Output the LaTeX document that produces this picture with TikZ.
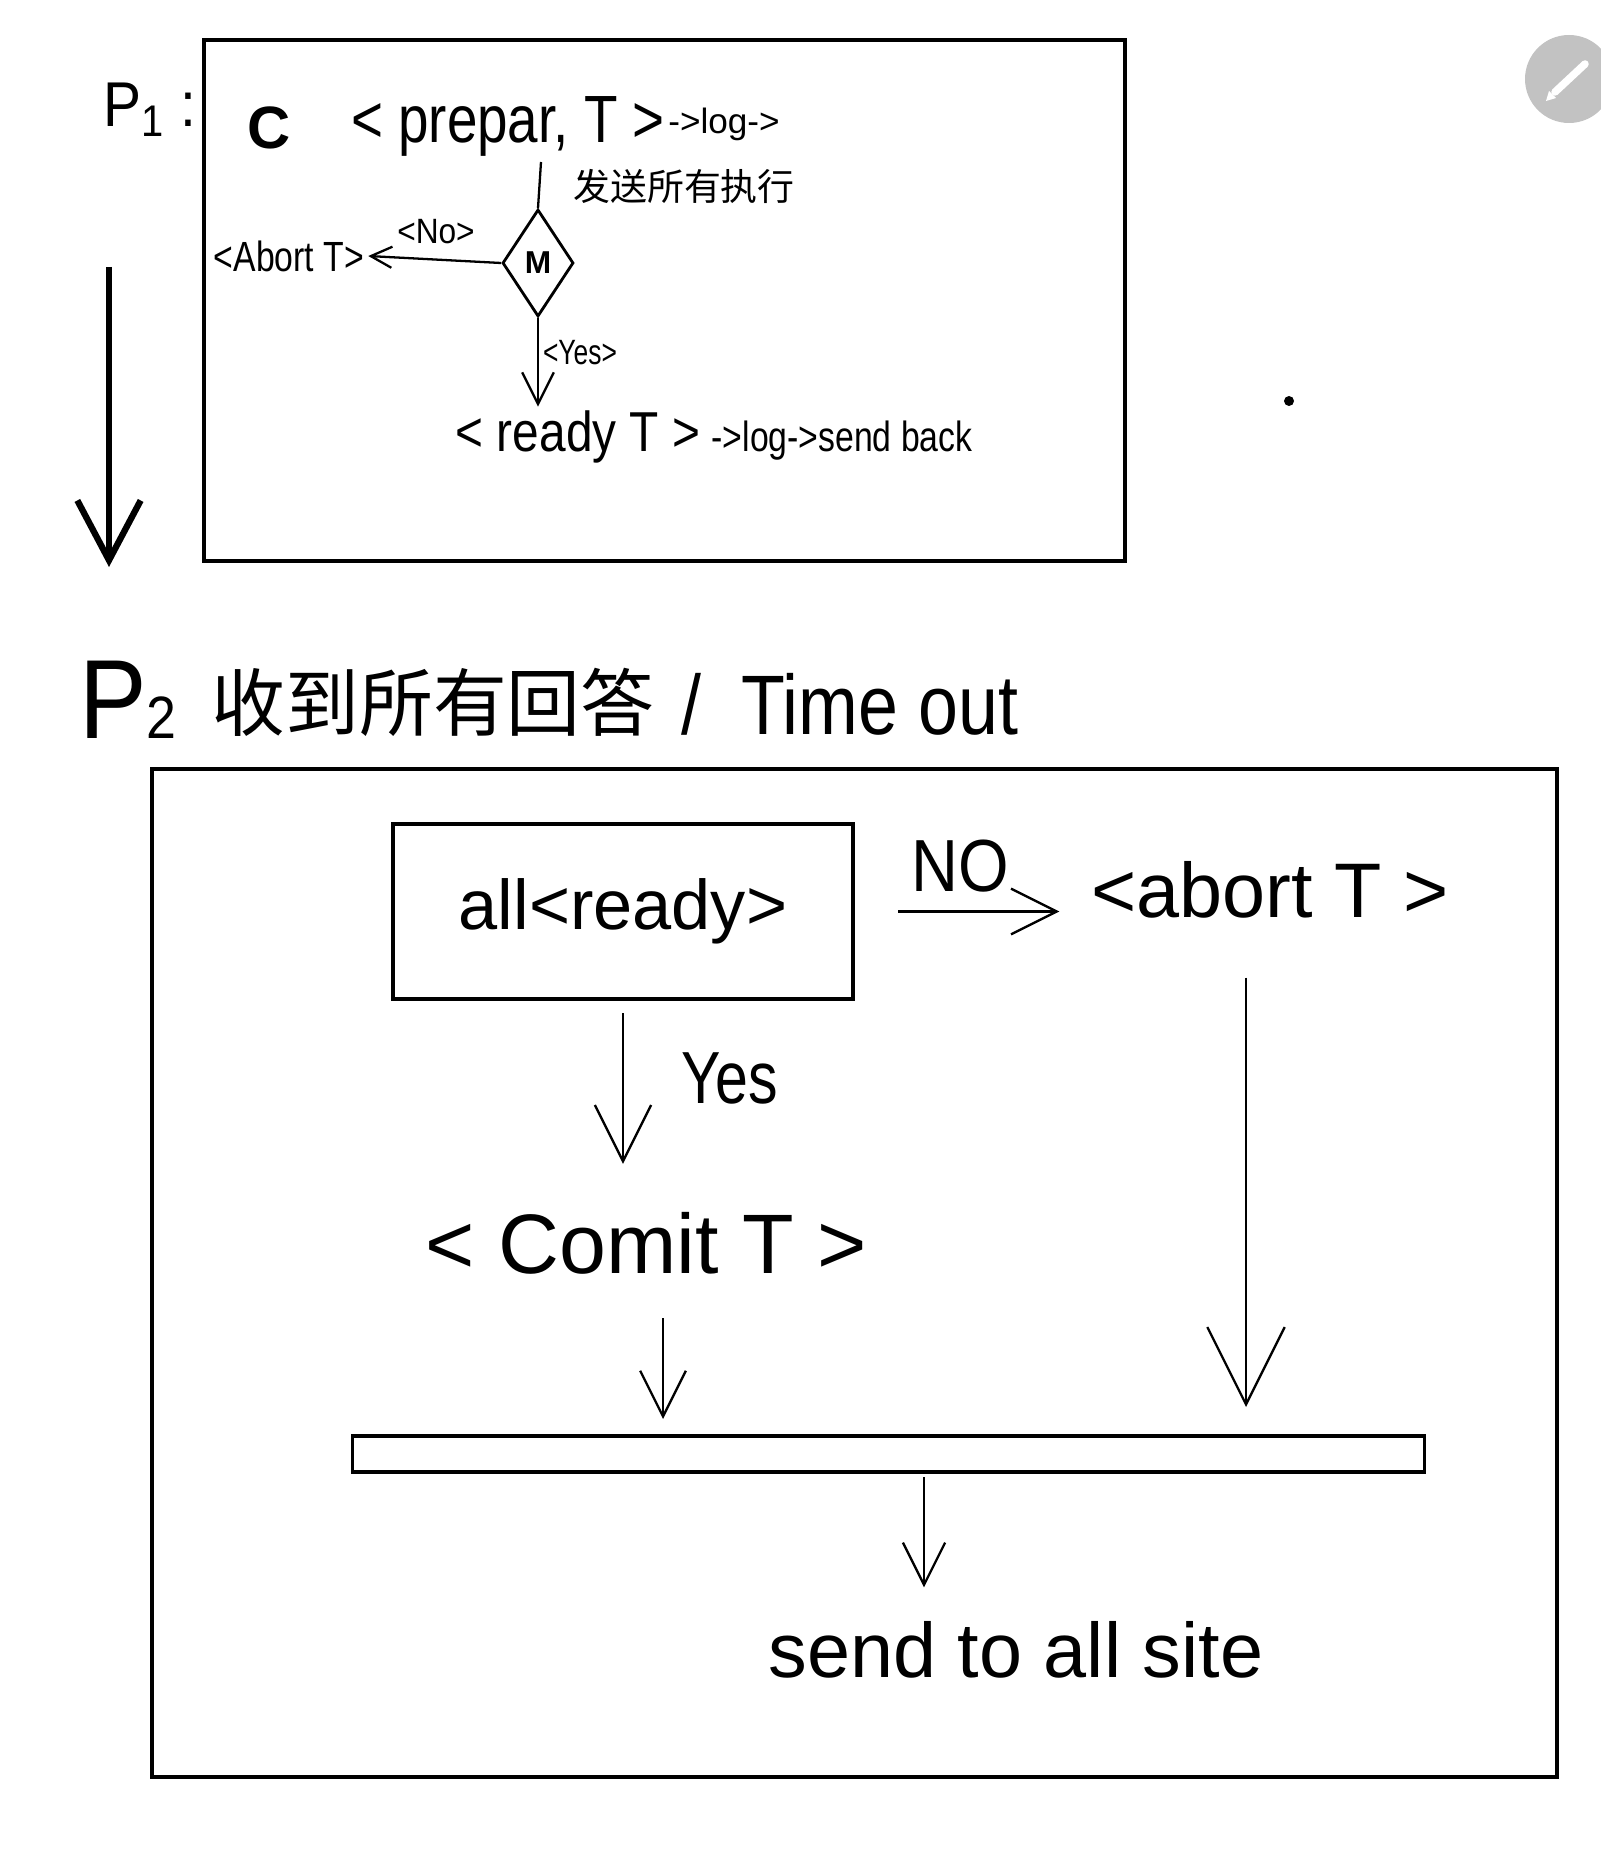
\documentclass[tikz,border=0pt]{standalone}
\usepackage{graphicx}
\usepackage{fontspec}
\setmainfont{Liberation Sans}
\newfontfamily\cjk{Noto Sans CJK SC}
\usetikzlibrary{arrows.meta,shapes.geometric,calc}
\newcommand{\nar}[2]{\scalebox{#1}[1]{#2}}
\newcommand{\fs}[1]{\fontsize{#1pt}{#1pt}\selectfont}
\begin{document}
\begin{tikzpicture}[x=0.01cm,y=-0.01cm,
  frame/.style={draw, line width=1.1pt, inner sep=0pt},
  txt/.style={inner sep=1pt},
  thinl/.style={line width=0.65pt},
  arr/.style={thinl, -{Straight Barb[length=#1pt, width=#1pt]}},
  arr/.default=10]
\useasboundingbox (0,0) rectangle (1600,1861);
\fill[white] (0,0) rectangle (1600,1861);

% ---------- P1 ----------
\node[frame, minimum width=9.21cm, minimum height=5.21cm] (box1) at (664.5,300.5) {};
\node[txt] (p1) at (150,110) {\fs{18}\nar{0.9}{P\textsubscript{1} :}};
\coordinate (bigtop) at (109,267);
\coordinate (bigbot) at (109,567);
\draw[line width=1.8pt, -{Straight Barb[length=17pt, width=18pt, line width=1.8pt]}] (bigtop) -- (bigbot);

\node[txt] (c) at (269,128) {\fs{17}\bfseries C};
\node[txt] (prep) at (508,126) {\fs{19}\nar{0.82}{< prepar, T >}};
\node[txt] (log1) at (724,124) {\fs{10}->log->};
\node[txt] (send) at (684,186) {\fs{10.5}\cjk 发送所有执行};
\node[draw, diamond, line width=0.8pt, minimum width=0.71cm, minimum height=1.07cm, inner sep=0pt] (dm) at (538,263) {\fs{9}\bfseries M};
\coordinate (pl) at (541,162);
\draw[thinl] (pl) -- (dm.north);

\node[txt] (abt) at (289,256) {\fs{12}\nar{0.8}{<Abort T>}};
\draw[arr=6] (dm.west) -- (abt.east);
\node[txt] (no1) at (436,232) {\fs{10}\nar{0.9}{<No>}};

\node[txt] (rdy) at (578,437) {\fs{16}\nar{0.85}{< ready T >}};
\draw[arr=9] (dm.south) -- (dm.south |- rdy.north);
\node[txt] (yes1) at (580,353) {\fs{10}\nar{0.75}{<Yes>}};
\node[txt] (log2) at (842,441) {\fs{12}\nar{0.8}{->log->send back}};

\fill (1289,401) circle (5);

% pencil icon
\fill[black!24] (1569,79) circle (44);
\draw[white, line width=0.075cm, line cap=round] (1555,92) -- (1585,64);
\fill[white] (1546,101) -- (1549,91) -- (1556,98) -- cycle;

% ---------- P2 ----------
\node[txt] (p2) at (128,700) {\fs{32}\nar{0.9}{P{\fs{17}2}}};
\node[txt] (p2c) at (433,702) {\fs{21}\cjk 收到所有回答};
\node[txt] (p2t) at (850,704) {\fs{24}\nar{0.85}{/ \ Time out}};

\node[frame, minimum width=14.05cm, minimum height=10.08cm] (box2) at (854.5,1273) {};
\node[frame, minimum width=4.6cm, minimum height=1.75cm] (rb) at (623,911.5) {\fs{20}all<ready>};

\node[txt] (ab) at (1270,890) {\fs{22}<abort T >};
\draw[arr=13, shorten <=0.43cm, shorten >=0.28cm] (rb.east) -- (rb.east -| ab.west);
\node[txt] (nol) at (960,866) {\fs{21}\nar{0.88}{NO}};

\node[txt] (cm) at (646,1243) {\fs{24}< Comit T >};
\draw[arr=16, shorten <=0.12cm, shorten >=0.44cm] (rb.south) -- (rb.south |- cm.north);
\node[txt] (yes2) at (730,1078) {\fs{21}\nar{0.8}{Yes}};

\node[frame, line width=0.9pt, minimum width=10.71cm, minimum height=0.36cm] (bar) at (888.5,1454) {};
\coordinate (ba) at (663,1436);
\coordinate (bb) at (1246,1436);
\coordinate (bc) at (924,1472);
\draw[arr=13, shorten <=0.4cm, shorten >=0.17cm] (cm.south -| ba) -- (ba);
\draw[arr=22, shorten <=0.55cm, shorten >=0.29cm] (ab.south -| bb) -- (bb);

\node[txt] (sd) at (1016,1650) {\fs{22}send to all site};
\draw[arr=12, shorten <=0.05cm, shorten >=0.3cm] (bc) -- (bc |- sd.north);
\end{tikzpicture}
\end{document}
